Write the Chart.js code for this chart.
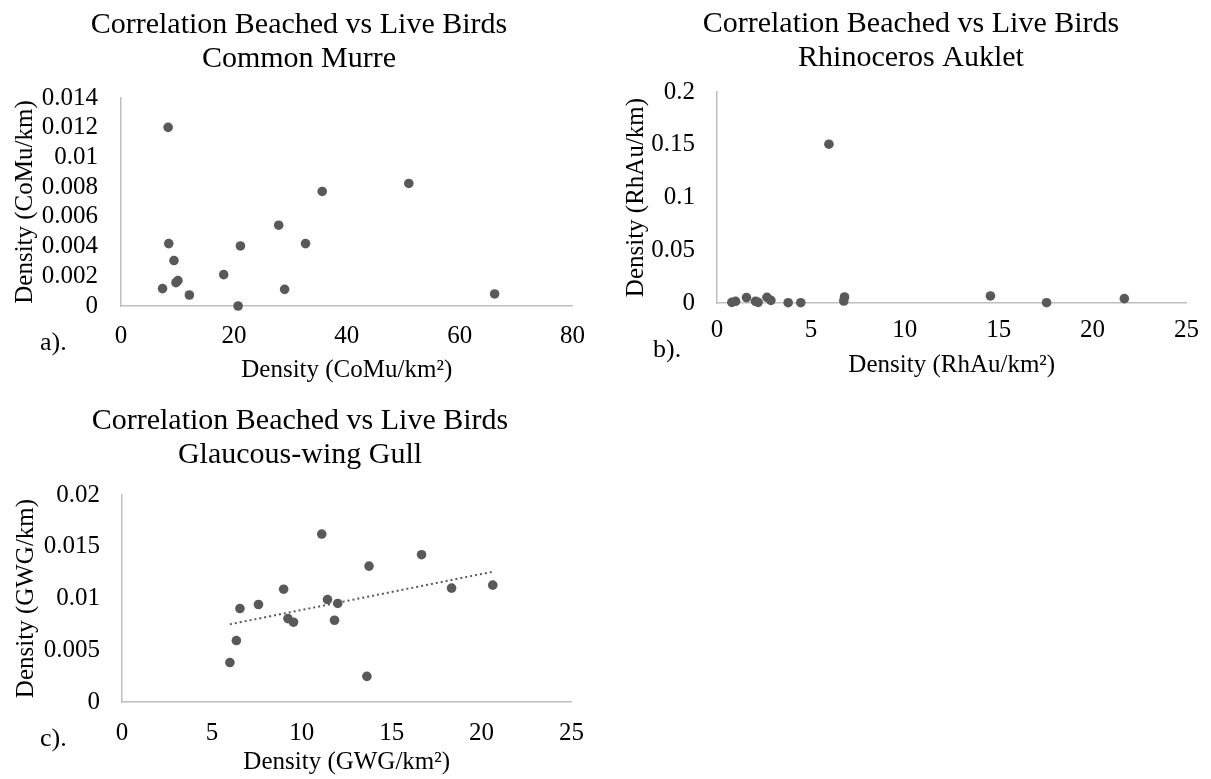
<!DOCTYPE html>
<html>
<head>
<meta charset="utf-8">
<title>Correlation Beached vs Live Birds</title>
<script src="https://cdn.jsdelivr.net/npm/chart.js@4.4.0/dist/chart.umd.min.js"></script>
<style>
  html, body { margin: 0; padding: 0; background: #fff; width: 1211px; height: 779px; overflow: hidden; }
  canvas { position: absolute; }
</style>
</head>
<body>
<canvas id="chart-a" width="600" height="395" style="left:0;top:0;width:600px;height:395px"></canvas>
<canvas id="chart-b" width="600" height="395" style="left:611px;top:0;width:600px;height:395px"></canvas>
<canvas id="chart-c" width="600" height="379" style="left:0;top:400px;width:600px;height:379px"></canvas>
<script>
// a) Common Murre
const muDensityLive    = [8.35, 8.46, 9.39, 10.09, 9.74, 7.36, 12.12, 18.2, 21.16, 20.75, 27.94, 28.99, 32.7, 35.65, 51.0, 66.2];
const muDensityBeached = [0.01202, 0.0042, 0.00306, 0.00171, 0.00157, 0.00117, 0.00074, 0.00211, 0.00404, 0, 0.00544, 0.00112, 0.0042, 0.00771, 0.00825, 0.00081];
const muXTicks  = [0, 20, 40, 60, 80];
const muXLabels = ['0', '20', '40', '60', '80'];
const muYTicks  = [0, 0.002, 0.004, 0.006, 0.008, 0.01, 0.012, 0.014];
const muYLabels = ['0', '0.002', '0.004', '0.006', '0.008', '0.01', '0.012', '0.014'];

// b) Rhinoceros Auklet
const raDensityLive    = [0.79, 0.99, 1.57, 2.05, 2.19, 2.66, 2.87, 3.79, 4.46, 5.96, 6.79, 6.75, 14.56, 17.55, 21.69];
const raDensityBeached = [0.0006, 0.0016, 0.0051, 0.0016, 0.0006, 0.0054, 0.0025, 0.0003, 0.0003, 0.1505, 0.0057, 0.0019, 0.0067, 0.0003, 0.0041];
const raXTicks  = [0, 5, 10, 15, 20, 25];
const raXLabels = ['0', '5', '10', '15', '20', '25'];
const raYTicks  = [0, 0.05, 0.1, 0.15, 0.2];
const raYLabels = ['0', '0.05', '0.1', '0.15', '0.2'];

// c) Glaucous-winged Gull
const gwDensityLive    = [11.11, 16.66, 13.74, 8.99, 20.62, 18.33, 11.43, 12.0, 7.59, 6.56, 9.23, 9.54, 11.82, 6.36, 6.0, 13.62];
const gwDensityBeached = [0.01623, 0.01423, 0.01313, 0.0109, 0.01129, 0.011, 0.0099, 0.00952, 0.00942, 0.00903, 0.00806, 0.00771, 0.0079, 0.00594, 0.00381, 0.00248];
const gwXTicks  = [0, 5, 10, 15, 20, 25];
const gwXLabels = ['0', '5', '10', '15', '20', '25'];
const gwYTicks  = [0, 0.005, 0.01, 0.015, 0.02];
const gwYLabels = ['0', '0.005', '0.01', '0.015', '0.02'];

const SERIF      = "'Liberation Serif', 'Times New Roman', serif";
const POINT_GRAY = '#595959';
const AXIS_GRAY  = '#bfbfbf';

function toPoints(xs, ys) {
  return xs.map((x, i) => ({ x, y: ys[i] }));
}

/**
 * Least squares line over the data, from smallest to largest x (like Excel's linear trendline).
 */
function linearFit(xs, ys) {
  const n  = xs.length;
  const mx = xs.reduce((a, b) => a + b, 0) / n;
  const my = ys.reduce((a, b) => a + b, 0) / n;
  let sxy = 0, sxx = 0;
  xs.forEach((x, i) => { sxy += (x - mx) * (ys[i] - my); sxx += (x - mx) * (x - mx); });
  const slope = sxy / sxx;
  const lo = Math.min(...xs), hi = Math.max(...xs);
  return [lo, hi].map(x => ({ x, y: my + slope * (x - mx) }));
}

// Title lines and the panel tag ("a).") drawn straight onto the canvas
const panelText = {
  id: 'panelText',
  afterDraw(chart, args, opts) {
    const ctx = chart.ctx;
    ctx.save();
    ctx.fillStyle    = '#000';
    ctx.textBaseline = 'middle';
    ctx.textAlign    = 'center';
    ctx.font = `30px ${SERIF}`;
    opts.title.forEach((line, i) => ctx.fillText(line, opts.titleX, opts.titleY + i * opts.titleGap));
    ctx.textAlign = 'left';
    ctx.font = `26px ${SERIF}`;
    ctx.fillText(opts.tag, opts.tagX, opts.tagY);
    ctx.restore();
  }
};

function renderScatter(canvasId, p) {
  const datasets = [{
    data           : toPoints(p.xs, p.ys),
    backgroundColor: POINT_GRAY,
    borderColor    : POINT_GRAY,
    borderWidth    : 0,
    pointRadius    : 4.8,
    clip           : false,
    order          : 1
  }];
  if (p.trend) {
    datasets.push({
      type       : 'line',
      data       : linearFit(p.xs, p.ys),
      borderColor: POINT_GRAY,
      borderWidth: 2,
      borderDash : [2, 3],
      pointRadius: 0,
      fill       : false,
      order      : 0
    });
  }

  const tickFont  = { family: SERIF, size: 25 };
  const titleFont = { family: SERIF, size: 25 };

  return new Chart(document.getElementById(canvasId), {
    type: 'scatter',
    data: { datasets },
    options: {
      responsive: false,
      animation : false,
      devicePixelRatio: 1,
      layout: { padding: { top: p.plotTop, right: p.padRight, left: 0, bottom: 0 } },
      plugins: {
        legend : { display: false },
        tooltip: { enabled: false },
        title  : { display: false },
        panelText: {
          title: p.title, titleX: p.titleX, titleY: p.titleY, titleGap: 34,
          tag: p.tag, tagX: p.tagX, tagY: p.tagY
        }
      },
      scales: {
        x: {
          type: 'linear',
          min : p.xTicks[0],
          max : p.xTicks[p.xTicks.length - 1],
          afterBuildTicks: s => { s.ticks = p.xTicks.map(v => ({ value: v })); },
          afterFit: s => { s.height = p.xAxisHeight; },
          grid  : { display: false, drawTicks: false },
          border: { display: true, color: AXIS_GRAY, width: 1.5 },
          ticks : { color: '#000', font: tickFont, padding: p.xTickPad, autoSkip: false, maxRotation: 0,
                    callback: (v, i) => p.xLabels[i] },
          title : { display: true, text: p.xTitle, color: '#000', font: titleFont,
                    padding: { top: 0, bottom: p.xTitlePad } }
        },
        y: {
          type: 'linear',
          min : p.yTicks[0],
          max : p.yTicks[p.yTicks.length - 1],
          afterBuildTicks: s => { s.ticks = p.yTicks.map(v => ({ value: v })); },
          afterFit: s => { s.width = p.yAxisWidth; },
          grid  : { display: false, drawTicks: false },
          border: { display: true, color: AXIS_GRAY, width: 1.5 },
          ticks : { color: '#000', font: tickFont, padding: p.yTickPad, autoSkip: false,
                    callback: (v, i) => p.yLabels[i] },
          title : { display: true, text: p.yTitle, color: '#000', font: titleFont,
                    padding: { top: p.yTitlePad, bottom: 0 } }
        }
      }
    },
    plugins: [panelText]
  });
}

renderScatter('chart-a', {
  xs: muDensityLive, ys: muDensityBeached,
  xTicks: muXTicks, xLabels: muXLabels, yTicks: muYTicks, yLabels: muYLabels,
  title : ['Correlation Beached vs Live Birds', 'Common Murre'],
  xTitle: 'Density (CoMu/km\u00B2)', yTitle: 'Density (CoMu/km)',
  tag: 'a).', tagX: 40, tagY: 343,
  titleX: 299, titleY: 25,
  plotTop: 98, padRight: 19, xAxisHeight: 89, yAxisWidth: 121,
  xTickPad: 15, xTitlePad: 10, yTickPad: 23, yTitlePad: 10
});

renderScatter('chart-b', {
  xs: raDensityLive, ys: raDensityBeached,
  xTicks: raXTicks, xLabels: raXLabels, yTicks: raYTicks, yLabels: raYLabels,
  title : ['Correlation Beached vs Live Birds', 'Rhinoceros Auklet'],
  xTitle: 'Density (RhAu/km\u00B2)', yTitle: 'Density (RhAu/km)',
  tag: 'b).', tagX: 42, tagY: 350,
  titleX: 300, titleY: 24,
  plotTop: 92, padRight: 21, xAxisHeight: 92, yAxisWidth: 106,
  xTickPad: 12, xTitlePad: 15, yTickPad: 22, yTitlePad: 10
});

renderScatter('chart-c', {
  xs: gwDensityLive, ys: gwDensityBeached, trend: true,
  xTicks: gwXTicks, xLabels: gwXLabels, yTicks: gwYTicks, yLabels: gwYLabels,
  title : ['Correlation Beached vs Live Birds', 'Glaucous-wing Gull'],
  xTitle: 'Density (GWG/km\u00B2)', yTitle: 'Density (GWG/km)',
  tag: 'c).', tagX: 40, tagY: 339,
  titleX: 300, titleY: 21,
  plotTop: 95, padRight: 14, xAxisHeight: 77, yAxisWidth: 122,
  xTickPad: 16, xTitlePad: 2, yTickPad: 22, yTitlePad: 11
});
</script>
</body>
</html>
